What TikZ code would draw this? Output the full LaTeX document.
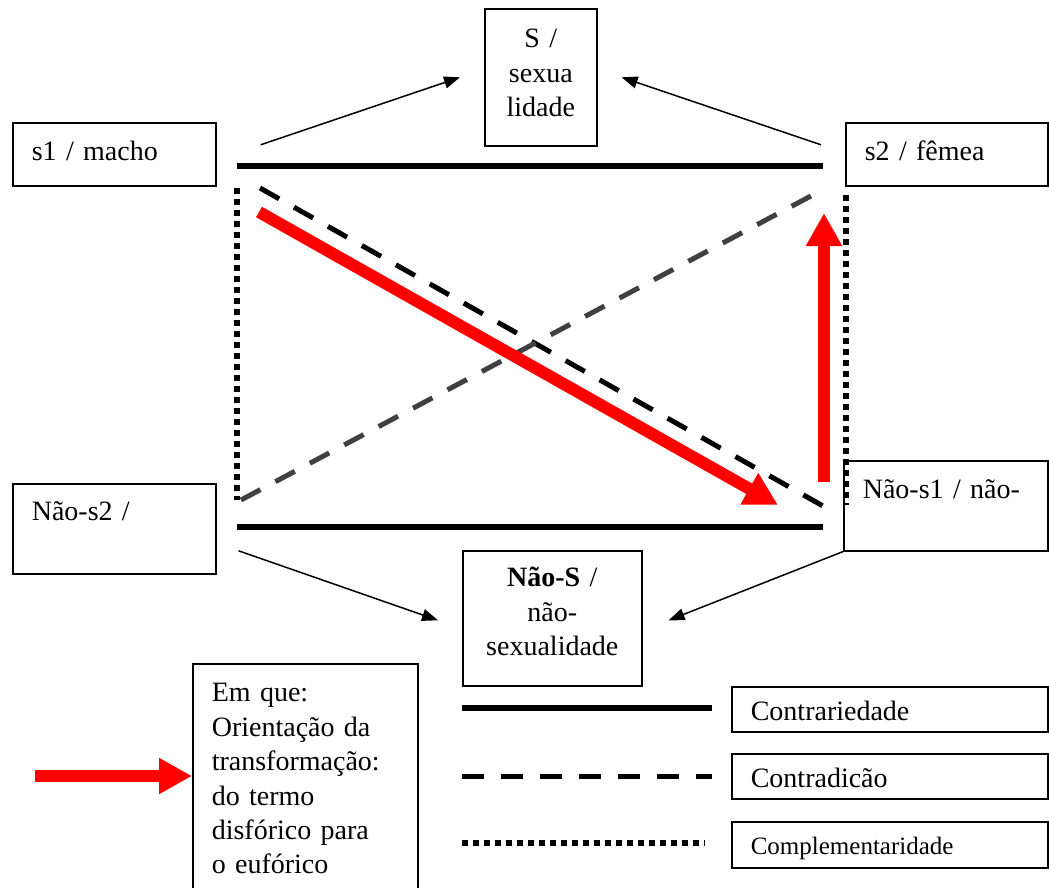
\documentclass[tikz,border=0pt]{standalone}
\usepackage{fontspec}
\setmainfont{Liberation Serif}
\definecolor{vermelho}{RGB}{255,0,0}
\definecolor{cinza}{RGB}{64,64,64}
\usetikzlibrary{arrows.meta}
\tikzset{
  caixa/.style={draw, line width=0.8pt, anchor=north west, inner xsep=9.5pt, inner ysep=0pt,
    font=\fontsize{14}{17.2}\selectfont},
  contrario/.style={line width=3pt},
  contraditorio/.style={line width=2.5pt, dash pattern=on 11pt off 8.5pt},
  complementar/.style={line width=2.75pt, dash pattern=on 2.75pt off 2.75pt},
  seta/.style={line width=0.75pt, -{Triangle[length=8pt,width=6pt]}},
  transforma/.style={vermelho, line width=6pt, -{Triangle[length=16.5pt,width=17pt]}},
}

\begin{document}
\begin{tikzpicture}[x=0.5pt, y=-0.5pt]
  \useasboundingbox (0,0) rectangle (1049,888);

    % termos do quadrado
    \node[caixa, align=center, text width=37pt, text height=19.5pt, text depth=49pt] (sexualidade) at (484,8) {S /\\ sexua\\ lidade};
    \node[caixa, align=left, text width=82.5pt, text height=19pt, text depth=12.5pt] (macho) at (12,122) {s1 / macho};
    \node[caixa, align=left, text width=82pt, text height=19pt, text depth=12.5pt] (femea) at (845,122) {s2 / fêmea};
    \node[caixa, align=left, text width=82.5pt, text height=18.5pt, text depth=26.5pt] (naos2) at (12,483) {Não-s2 /};
    \node[caixa, align=left, text width=83pt, text height=19pt, text depth=26pt] (naos1) at (843,460) {Não-s1 / não-};
    \node[caixa, align=center, text width=70.5pt, text height=18pt, text depth=49.5pt] (naoS) at (462,550) {\textbf{Não-S} /\\ não-\\ sexualidade};

    % legenda
    \node[caixa, align=left, text width=93.5pt, text height=19pt, text depth=99.5pt] (emque) at (192,663)
      {Em que:\\ Orientação da\\ transformação:\\ do termo\\ disfórico para\\ o eufórico};
    \node[caixa, align=left, text width=139pt, text height=17pt, text depth=5.5pt] (contrariedade) at (731,686) {Contrariedade};
    \node[caixa, align=left, text width=139pt, text height=17pt, text depth=5.5pt] (contradicao) at (731,753) {Contradicão};
    \node[caixa, align=left, text width=139pt, text height=16.5pt, text depth=6.5pt,
      font=\fontsize{12.5}{15}\selectfont] (complementaridade) at (731,821) {Complementaridade};

    % cantos do quadrado
    \coordinate (c1) at (237,166);
    \coordinate (c2) at (823,166);
    \coordinate (c3) at (237,527);
    \coordinate (c4) at (823,527);

    \draw[contrario] (c1) -- (c2);
    \draw[contrario] (c3) -- (c4);
    \draw[complementar] (237,188) coordinate (d1) -- (237,500) coordinate (d2);
    \draw[complementar] (846,195) coordinate (d3) -- (846,505) coordinate (d4);
    \draw[contraditorio] (260,188) coordinate (x1) -- (823,506) coordinate (x2);
    \draw[contraditorio, cinza] (241,500) coordinate (x3) -- (824,189) coordinate (x4);

    % orientacao da transformacao
    \coordinate (r1) at (259,212);
    \coordinate (r2) at (778,505);
    \coordinate (r3) at (824,482);
    \coordinate (r4) at (824,213);
    \draw[transforma] (r1) -- (r2);
    \draw[transforma] (r3) -- (r4);

    % implicacoes
    \draw[seta] ([xshift=22pt,yshift=4.75pt]macho.east) -- ([xshift=-12pt]sexualidade.west);
    \draw[seta] ([xshift=-12pt,yshift=4.75pt]femea.west) -- ([xshift=12pt]sexualidade.east);
    \draw[seta] ([xshift=11pt,yshift=-11pt]naos2.east) -- ([xshift=-12pt,yshift=-1pt]naoS.west);
    \draw[seta] (naos1.south west) -- ([xshift=13pt,yshift=-1pt]naoS.east);

    % linhas da legenda
    \coordinate (l1) at (462,708);
    \coordinate (l2) at (462,776);
    \coordinate (l3) at (462,843);
    \coordinate (l0) at (35,776);
    \draw[contrario] (l1) -- ([xshift=-9.5pt]l1 -| contrariedade.west);
    \draw[contraditorio] (l2) -- ([xshift=-9.5pt]l2 -| contradicao.west);
    \draw[complementar] (l3) -- ([xshift=-13pt]l3 -| complementaridade.west);
    \draw[transforma] (l0) -- (l0 -| emque.west);
\end{tikzpicture}
\end{document}
